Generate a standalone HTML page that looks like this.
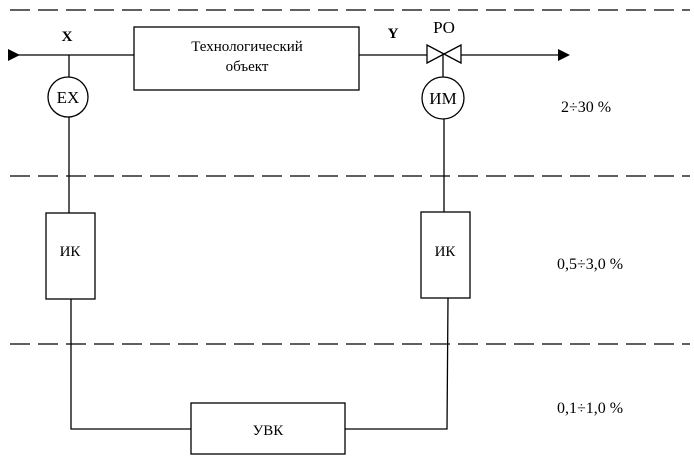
<!DOCTYPE html>
<html><head><meta charset="utf-8"><style>
html,body{margin:0;padding:0;background:#fff;}
svg{display:block;}
text{font-family:"Liberation Serif","Noto Serif CJK SC",serif;fill:#000;}
</style></head><body>
<svg width="694" height="462" viewBox="0 0 694 462" xmlns="http://www.w3.org/2000/svg">
<g stroke="#000" stroke-width="1.3" fill="none">
<line x1="10" y1="10" x2="690" y2="10" stroke-dasharray="20,8"/>
<line x1="10" y1="176" x2="690" y2="176" stroke-dasharray="20,8"/>
<line x1="10" y1="344" x2="690" y2="344" stroke-dasharray="20,8"/>
<line x1="12" y1="55" x2="134" y2="55"/>
<rect x="134" y="27" width="225" height="63"/>
<line x1="359" y1="55" x2="427" y2="55"/>
<line x1="461" y1="55" x2="562" y2="55"/>
<polygon points="427,45 427,63 444,54 461,45 461,63 444,54"/>
<line x1="69" y1="55" x2="69" y2="77"/>
<circle cx="68" cy="97" r="20"/>
<line x1="69" y1="117" x2="69" y2="213"/>
<line x1="443" y1="55" x2="443" y2="77"/>
<circle cx="443" cy="98" r="21"/>
<line x1="444" y1="119" x2="444" y2="212"/>
<rect x="46" y="213" width="49" height="86"/>
<rect x="421" y="212" width="49" height="86"/>
<polyline points="71,299 71,429 191,429"/>
<polyline points="448,298 447,429 345,429"/>
<rect x="191" y="403" width="154" height="51"/>
</g>
<polygon points="8,49 8,61 20,55" fill="#000"/>
<polygon points="558,49 558,61 570,55" fill="#000"/>
<g font-size="15" text-anchor="middle">
<text x="67" y="41" font-weight="bold">X</text>
<text x="393" y="38" font-weight="bold">Y</text>
<text x="444" y="33" font-size="17">PO</text>
<text x="247" y="51">Технологический</text>
<text x="247" y="71">объект</text>
<text x="68" y="103" font-size="17">EX</text>
<text x="443" y="104" font-size="17">ИМ</text>
<text x="70" y="256">ИК</text>
<text x="445" y="256">ИК</text>
<text x="268" y="435">УВК</text>
</g>
<g font-size="16">
<text x="561" y="112">2÷30 %</text>
<text x="557" y="269">0,5÷3,0 %</text>
<text x="557" y="413">0,1÷1,0 %</text>
</g>
</svg>
</body></html>
